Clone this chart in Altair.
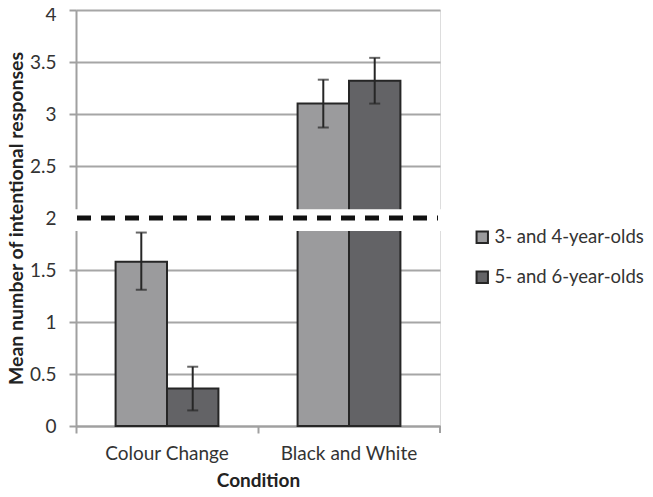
import altair as alt
import pandas as pd

conditions = ["Colour Change", "Colour Change", "Black and White", "Black and White"]
groups = ["3- and 4-year-olds", "5- and 6-year-olds", "3- and 4-year-olds", "5- and 6-year-olds"]
means = [1.58, 0.36, 3.10, 3.32]
err_low = [1.31, 0.15, 2.87, 3.10]
err_high = [1.86, 0.57, 3.33, 3.54]

cond_order = ["Colour Change", "Black and White"]
group_order = ["3- and 4-year-olds", "5- and 6-year-olds"]
colors = ["#9b9b9d", "#636366"]
y_ticks = [0, 0.5, 1, 1.5, 2, 2.5, 3, 3.5, 4]
break_low, break_high = 1.875, 2.085
threshold = 2

df = pd.DataFrame({"Condition": conditions, "Group": groups, "Mean": means,
                   "Low": err_low, "High": err_high})
W, H = 364, 416
FONT = "Lato"

x_enc = alt.X("Condition:N", sort=cond_order, title="Condition",
              scale=alt.Scale(paddingInner=0, paddingOuter=0),
              axis=alt.Axis(bandPosition=0, labelAngle=0, ticks=True, tickSize=7,
                            tickColor="#a0a0a0", tickWidth=2, domainColor="#a0a0a0",
                            domainWidth=2, labelFontSize=19, labelColor="#333333",
                            labelPadding=11, titleFontSize=19, titleFontWeight="bold",
                            titleColor="#222222", titlePadding=8, labelFont=FONT,
                            titleFont=FONT, grid=False))
xo = alt.XOffset("Group:N", sort=group_order,
                 scale=alt.Scale(paddingInner=0, paddingOuter=0.77))
y_scale = alt.Scale(domain=[0, 4], nice=False)

bars = alt.Chart(df).mark_bar(stroke="#262626", strokeWidth=2).encode(
    x=x_enc, xOffset=xo,
    y=alt.Y("Mean:Q", scale=y_scale, title="Mean number of intentional responses",
            axis=alt.Axis(values=y_ticks, format="~g", grid=True, gridColor="#a6a6a6",
                          gridWidth=2, domainColor="#a0a0a0", domainWidth=2,
                          tickColor="#a0a0a0", tickWidth=2, tickSize=7, labelFontSize=19,
                          labelColor="#333333", labelPadding=13,
                          labelOffset={"condition": {"test": "datum.value == 4", "value": 4},
                                       "value": 0},
                          titleFontSize=19.5, titleFontWeight="bold", titleColor="#222222",
                          titlePadding=3, labelFont=FONT, titleFont=FONT)),
    color=alt.Color("Group:N", sort=group_order, title=None,
                    scale=alt.Scale(domain=group_order, range=colors),
                    legend=alt.Legend(orient="none", legendX=397, legendY=218,
                                      symbolType="square", symbolSize=130,
                                      symbolStrokeColor="#262626", symbolStrokeWidth=2,
                                      labelFontSize=18.5, labelColor="#333333",
                                      labelFont=FONT, rowPadding=20, labelOffset=3,
                                      labelLimit=300)),
)

err_rule = alt.Chart(df).mark_rule(color="#262626", strokeWidth=2).encode(
    x=alt.X("Condition:N", sort=cond_order), xOffset=xo,
    y=alt.Y("Low:Q", scale=y_scale), y2="High:Q")
err_top = alt.Chart(df).mark_tick(color="#262626", thickness=2, size=11, orient="horizontal").encode(
    x=alt.X("Condition:N", sort=cond_order), xOffset=xo,
    y=alt.Y("High:Q", scale=y_scale))
err_bot = alt.Chart(df).mark_tick(color="#262626", thickness=2, size=11, orient="horizontal").encode(
    x=alt.X("Condition:N", sort=cond_order), xOffset=xo,
    y=alt.Y("Low:Q", scale=y_scale))

brk = pd.DataFrame({"lo": [break_low], "hi": [break_high], "t": [threshold]})
white = alt.Chart(brk).mark_rect(color="white").encode(
    x=alt.value(-8), x2=alt.value(W + 6),
    y=alt.Y("lo:Q", scale=y_scale), y2="hi:Q")
dash = alt.Chart(brk).mark_rule(color="#111111", strokeWidth=5, strokeDash=[14, 10]).encode(
    x=alt.value(1), x2=alt.value(W - 2), y=alt.Y("t:Q", scale=y_scale))
end_tick = alt.Chart(brk).mark_rule(color="#a0a0a0", strokeWidth=2).encode(
    x=alt.value(W), y=alt.value(H), y2=alt.value(H + 7))

chart = alt.layer(bars, err_rule, err_top, err_bot, white, dash, end_tick).properties(
    width=W, height=H, padding={"left": 68, "top": 2, "right": 205, "bottom": 63},
    autosize=alt.AutoSizeParams(type="none")
).configure_view(stroke=None).configure(font=FONT)

chart.save("out.html", embed_options={"renderer": "svg", "actions": False})
